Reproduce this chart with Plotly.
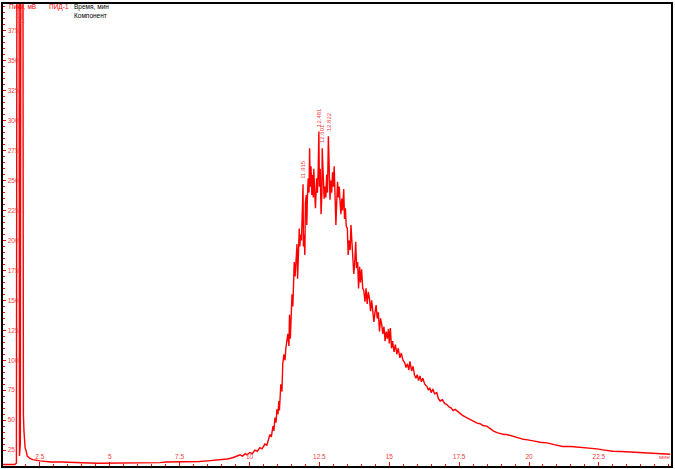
import plotly.graph_objects as go

# retention time (min) and detector signal (mV)
time_min = [1.10, 1.60, 1.66, 1.70, 1.74, 1.77, 1.80, 1.84, 1.87, 1.89, 1.91, 1.93, 1.95, 1.97,
            2.01, 2.05, 2.14, 2.25, 2.50, 2.90, 3.30, 3.60, 4.00, 4.60, 5.20, 5.80, 6.30, 6.80,
            7.00, 7.50, 7.90, 8.20, 8.50, 8.90, 9.20, 9.40, 9.60,
            9.66, 9.75, 9.85, 9.91, 10.01, 10.10, 10.19, 10.28, 10.37, 10.45, 10.55, 10.62, 10.68,
            10.73, 10.78, 10.84, 10.87, 10.91, 10.95, 10.98, 11.02, 11.05, 11.07, 11.09, 11.12,
            11.16, 11.19, 11.23, 11.27, 11.30, 11.34, 11.37, 11.41, 11.43, 11.46, 11.49, 11.52,
            11.55, 11.58, 11.60, 11.63, 11.66, 11.70, 11.72, 11.75, 11.78, 11.80, 11.83, 11.86,
            11.89, 11.915, 11.93, 11.95, 11.98, 12.00, 12.03, 12.05, 12.07, 12.10, 12.13, 12.15,
            12.17, 12.20, 12.23, 12.25, 12.28, 12.30, 12.33, 12.36, 12.40, 12.43, 12.46, 12.481,
            12.50, 12.53, 12.56, 12.59, 12.601, 12.64, 12.67, 12.70, 12.73, 12.76, 12.79, 12.822,
            12.85, 12.88, 12.91, 12.94, 12.97, 13.00, 13.03, 13.06, 13.09, 13.12, 13.15, 13.18,
            13.21, 13.24, 13.27, 13.30, 13.33, 13.37, 13.40, 13.43, 13.46, 13.50, 13.53, 13.56,
            13.60, 13.63, 13.66, 13.70, 13.73, 13.76, 13.80, 13.83, 13.87, 13.90, 13.94, 13.97,
            14.01, 14.05, 14.09, 14.13, 14.17, 14.21, 14.25, 14.29, 14.33, 14.37, 14.41, 14.45,
            14.49, 14.53, 14.57, 14.61, 14.65, 14.69, 14.73, 14.77, 14.81, 14.85, 14.89, 14.93,
            14.97, 15.00, 15.04, 15.08, 15.12, 15.17, 15.22, 15.27, 15.32, 15.38, 15.43, 15.49,
            15.55, 15.60, 15.65, 15.70, 15.74, 15.80, 15.85, 15.90, 15.95, 16.00, 16.05, 16.10,
            16.15, 16.20, 16.27, 16.35, 16.40, 16.45, 16.50, 16.56, 16.62, 16.70, 16.76, 16.82,
            16.90, 16.98, 17.06, 17.14, 17.22, 17.28, 17.36, 17.45, 17.53, 17.62, 17.70, 17.78,
            17.90, 18.00, 18.14, 18.25, 18.35, 18.49, 18.60, 18.72, 18.85, 19.00, 19.10, 19.21,
            19.35, 19.47, 19.57, 19.70, 19.80, 19.95, 20.03, 20.20, 20.40, 20.64, 20.90, 21.20,
            21.50, 21.82, 22.10, 22.43, 22.70, 23.00, 23.30, 23.60, 23.90, 24.20, 24.50, 24.80,
            25.05]
signal_mv = [13, 13, 14, 1000, 1000, 20, 30, 1000, 1000, 67, 55, 41, 35, 27,
             24, 20, 18, 17, 16, 15, 15, 14.5, 14.4, 14, 14, 14, 14.2, 14.5,
             15, 15, 15.3, 15.5, 16, 16.5, 17.5, 18.6, 20,
             21, 20, 22, 21, 23, 22, 25, 24, 27, 26, 30, 29, 34,
             38, 36, 45, 41, 52, 48, 59, 55, 66, 58, 72, 80,
             74, 97, 105, 100, 110, 116, 122, 112, 138, 118, 141, 155,
             145, 168, 182, 170, 188, 197, 168, 192, 210, 195, 205, 200,
             220, 247, 195, 205, 188, 232, 238, 213, 235, 252, 240, 277,
             245, 262, 238, 255, 236, 260, 240, 227, 252, 240, 262, 291,
             245, 260, 222, 240, 277, 250, 235, 245, 236, 255, 240, 287,
             257, 234, 250, 240, 257, 245, 262, 240, 213, 232, 249, 236,
             245, 232, 222, 235, 225, 243, 218, 227, 212, 210, 188, 200,
             192, 213, 199, 185, 172, 180, 199, 177, 182, 160, 178, 165,
             176, 160, 158, 149, 160, 147, 157, 152, 141, 150, 143, 132,
             140, 146, 135, 140, 124, 135, 130, 122, 128, 116, 124, 118,
             126, 114, 127, 110, 116, 107, 113, 105, 110, 102, 106, 100,
             98, 94, 97, 92, 99, 91, 95, 88, 85, 88, 83, 87,
             82, 85, 80, 78, 75, 77, 73, 76, 72, 73, 68, 66,
             67, 64, 63, 61, 60, 58, 59, 57, 56, 54, 53, 52,
             50, 49, 47.5, 47, 45.5, 45, 43, 41, 39.5, 38.5, 38, 38,
             37, 36.5, 36, 35, 34, 33.5, 33, 32.5, 31.5, 31, 29.5, 28,
             28, 27.5, 26.5, 26, 25, 24, 23.8, 23.3, 23, 22.5, 22, 21.7,
             21.5]

peak_times = [11.915, 12.481, 12.601, 12.822]
peak_heights = [247, 291, 277, 287]
peak_labels = ["11.915", "12.481", "12.601", "12.822"]

early_peak_times = [1.713, 1.861]
early_peak_labels = ["1.713", "1.861"]

x_tick_vals = [2.5, 5, 7.5, 10, 12.5, 15, 17.5, 20, 22.5]
x_tick_text = ["2.5", "5", "7.5", "10", "12.5", "15", "17.5", "20", "22.5"]
y_tick_vals = [25, 50, 75, 100, 125, 150, 175, 200, 225, 250, 275, 300, 325, 350, 375]

RED = "#ff0000"
LBL = "#f03c3c"
FONT = "Liberation Sans"

W, H = 675, 469
ML, MR, MT, MB = 3, 4, 2, 3
PW, PH = W - ML - MR, H - MT - MB


def px_x(px):
    return (px - ML) / PW


def px_y(py):
    return 1 - (py - MT) / PH


fig = go.Figure()
fig.add_trace(go.Scatter(x=time_min, y=signal_mv, mode="lines",
                         line=dict(color=RED, width=1.4), hoverinfo="skip"))

annotations = []
for t, h, s in zip(peak_times, peak_heights, peak_labels):
    annotations.append(dict(x=t, y=h, xref="x", yref="y", text=s, showarrow=False,
                            textangle=-90, yanchor="bottom", xanchor="center", yshift=3,
                            font=dict(family=FONT, size=6, color=LBL)))
for t, s in zip(early_peak_times, early_peak_labels):
    annotations.append(dict(x=t, y=0.995, xref="x", yref="paper", text=s, showarrow=False,
                            textangle=-90, yanchor="top", xanchor="center",
                            font=dict(family=FONT, size=6, color=LBL)))

header = [("Пики, мВ", 7, 5, RED), ("ПИД-1", 47, 5, RED),
          ("Время, мин", 72, 5, "#000000"), ("Компонент", 72, 14, "#000000")]
for s, px, py, col in header:
    annotations.append(dict(x=px_x(px), y=px_y(py), xref="paper", yref="paper", text=s,
                            showarrow=False, xanchor="left", yanchor="middle",
                            font=dict(family=FONT, size=6.5, color=col)))
annotations.append(dict(x=px_x(664), y=0, xref="paper", yref="paper", text="мин",
                        showarrow=False, xanchor="center", yanchor="bottom", yshift=4,
                        font=dict(family=FONT, size=6, color=LBL)))

fig.update_layout(
    width=W, height=H,
    margin=dict(l=ML, r=MR, t=MT, b=MB),
    paper_bgcolor="white", plot_bgcolor="white",
    showlegend=False,
    annotations=annotations,
    xaxis=dict(range=[1.18, 25.08], tickmode="array", tickvals=x_tick_vals, ticktext=x_tick_text,
               ticks="inside", ticklen=4, tickcolor=RED, tickwidth=1,
               ticklabelposition="inside",
               tickfont=dict(family=FONT, size=6.5, color=LBL),
               minor=dict(dtick=0.5, tick0=0, ticks="inside", ticklen=2, tickcolor=RED),
               showgrid=False, zeroline=False,
               showline=True, linecolor="#000000", linewidth=2, mirror=True),
    yaxis=dict(range=[11.7, 397.5], tickmode="array", tickvals=y_tick_vals,
               ticks="inside", ticklen=3, tickcolor=RED, tickwidth=1,
               ticklabelposition="inside",
               tickfont=dict(family=FONT, size=6.5, color=LBL),
               minor=dict(dtick=5, tick0=0, ticks="inside", ticklen=2, tickcolor=RED),
               showgrid=False, zeroline=False,
               showline=True, linecolor="#000000", linewidth=2, mirror=True),
)

fig.write_html("out.html", config={"displayModeBar": False},
               post_script="document.body.style.margin='0';")
